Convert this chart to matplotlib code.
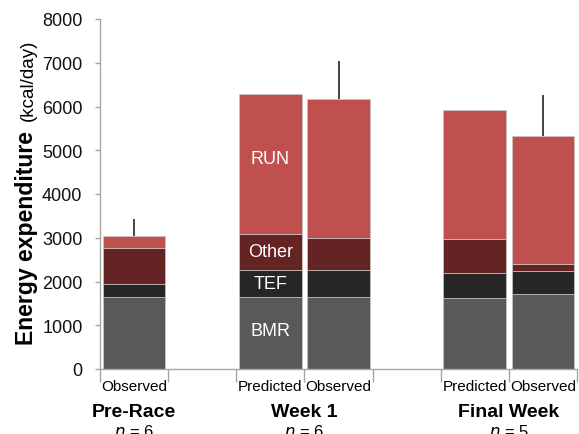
import numpy as np
import matplotlib.pyplot as plt

plt.rcParams['font.family'] = ['Liberation Sans', 'DejaVu Sans']

# slots: Pre-Race Obs, (gap), Week1 Pred, Week1 Obs, (gap), Final Pred, Final Obs
slot_labels = ["Observed", "", "Predicted", "Observed", "", "Predicted", "Observed"]
bar_slots = [0, 2, 3, 5, 6]
group_pos = [0, 2.5, 5.5]
group_names = ["Pre-Race", "Week 1", "Final Week"]
group_n = ["6", "6", "5"]

# stacked components (kcal/day)
bmr = [1650, 1650, 1650, 1615, 1720]
tef = [290, 610, 610, 570, 525]
other = [825, 825, 725, 785, 145]
run = [265, 3195, 3195, 2950, 2925]
err_up = [410, 0, 870, 0, 950]

colors = {"BMR": "#595959", "TEF": "#262626", "Other": "#632423", "RUN": "#C0504D"}

fig = plt.figure(figsize=(5.79, 4.35), dpi=100)
ax = fig.add_axes([100/579, 65/435, 477/579, 350/435])

x = np.array(bar_slots)
w = 0.92
bottom = np.zeros(len(x))
for name, vals in [("BMR", bmr), ("TEF", tef), ("Other", other), ("RUN", run)]:
    ax.bar(x, vals, w, bottom=bottom, color=colors[name],
           edgecolor="#c8c8c8", linewidth=0.5)
    bottom = bottom + np.array(vals)

totals = bottom
for xi, t, e in zip(x, totals, err_up):
    if e > 0:
        ax.errorbar(xi, t, yerr=[[0], [e]], fmt="none", ecolor="#262626",
                    elinewidth=1.2, capsize=0)

# segment labels on Week 1 predicted bar
for txt, yv in [("RUN", 4800), ("Other", 2680), ("TEF", 1960), ("BMR", 880)]:
    ax.text(2, yv, txt, color="white", fontsize=13, ha="center", va="center")

ax.set_xlim(-0.5, 6.5)
ax.set_ylim(0, 8000)
ax.set_yticks(np.arange(0, 8001, 1000))
ax.tick_params(axis="y", labelsize=13, color="#a6a6a6", length=3.6, width=1,
               pad=9, labelcolor="#111111")
ax.set_xticks(np.arange(7))
ax.set_xticklabels(slot_labels, fontsize=11)
ax.tick_params(axis="x", which="major", length=0, pad=7)
ax.set_xticks(np.arange(-0.5, 7, 1), minor=True)
ax.tick_params(axis="x", which="minor", length=9, color="#a6a6a6", width=1)
for s in ["top", "right"]:
    ax.spines[s].set_visible(False)
for s in ["left", "bottom"]:
    ax.spines[s].set_color("#a6a6a6")
    ax.spines[s].set_linewidth(1)

# group labels under the axis (n line is cut by the figure edge, as in the original)
for gx, name, n in zip(group_pos, group_names, group_n):
    px = ax.transData.transform((gx, 0))[0] / 579
    fig.text(px, 1 - 413/435, name, fontsize=14, fontweight="bold",
             ha="center", va="center")
    fig.text(px, 1 - 424/435, r"$n$ = " + n, fontsize=12,
             ha="center", va="top")

# y label: bold part + unit
fig.text(33/579, 1 - 345/435, "Energy expenditure", rotation=90,
         rotation_mode="anchor", ha="left", va="baseline",
         fontsize=16.6, fontweight="bold")
fig.text(33/579, 1 - 121/435, "(kcal/day)", rotation=90,
         rotation_mode="anchor", ha="left", va="baseline", fontsize=13.5)

fig.savefig("out.png", dpi=100)
